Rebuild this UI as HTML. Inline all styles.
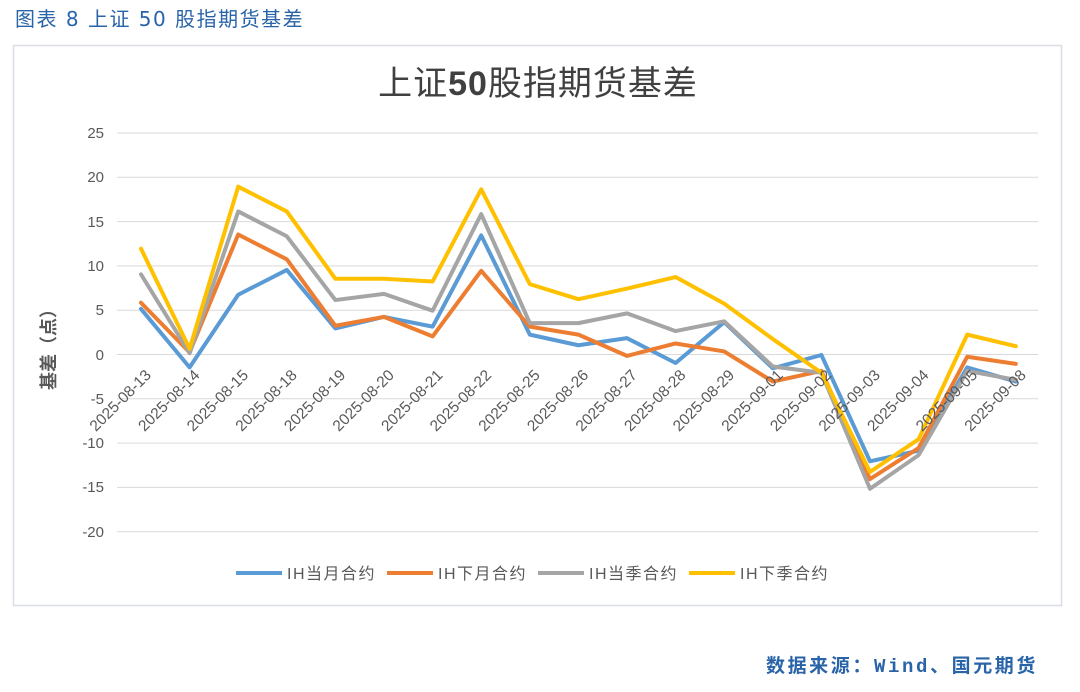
<!DOCTYPE html>
<html><head><meta charset="utf-8"><style>
body{margin:0;background:#fff;width:1080px;height:687px;overflow:hidden;font-family:"Liberation Sans","Noto Sans CJK SC",sans-serif}
</style></head><body>
<svg width="1080" height="687" xmlns="http://www.w3.org/2000/svg" style="font-family:'Liberation Sans','Noto Sans CJK SC',sans-serif">
<text x="15" y="26" font-size="20" fill="#2a64a8" letter-spacing="1.5" font-family="'DejaVu Sans','Noto Sans CJK SC',sans-serif">图表 8  上证 50 股指期货基差</text>
<rect x="13.5" y="45.5" width="1048" height="560" fill="#fff" stroke="#d9dee6" stroke-width="1.5"/>
<text x="538" y="95" font-size="34" fill="#404040" text-anchor="middle" letter-spacing="1">上证<tspan font-weight="bold">50</tspan>股指期货基差</text>
<g stroke="#d9d9d9" stroke-width="1">
<line x1="117" x2="1038" y1="133" y2="133"/><line x1="117" x2="1038" y1="177.3" y2="177.3"/>
<line x1="117" x2="1038" y1="221.6" y2="221.6"/><line x1="117" x2="1038" y1="265.9" y2="265.9"/>
<line x1="117" x2="1038" y1="310.2" y2="310.2"/><line x1="117" x2="1038" y1="354.5" y2="354.5"/>
<line x1="117" x2="1038" y1="398.8" y2="398.8"/><line x1="117" x2="1038" y1="443.1" y2="443.1"/>
<line x1="117" x2="1038" y1="487.4" y2="487.4"/><line x1="117" x2="1038" y1="531.7" y2="531.7"/>
</g>
<g font-size="15" fill="#595959" text-anchor="end">
<text x="104" y="138">25</text><text x="104" y="182">20</text><text x="104" y="227">15</text>
<text x="104" y="271">10</text><text x="104" y="315">5</text><text x="104" y="360">0</text>
<text x="104" y="404">-5</text><text x="104" y="448">-10</text><text x="104" y="492">-15</text><text x="104" y="537">-20</text>
</g>
<text transform="translate(55,345) rotate(-90)" font-size="18" fill="#595959" text-anchor="middle" font-weight="bold">基差（点）</text>
<g transform="translate(141,355) scale(48.6,-8.86)" fill="none" stroke-width="4" stroke-linejoin="round" stroke-linecap="round">
<polyline vector-effect="non-scaling-stroke" stroke="#5b9bd5" points="0,5.2 1,-1.4 2,6.8 3,9.6 4,3.0 5,4.3 6,3.2 7,13.5 8,2.3 9,1.1 10,1.9 11,-0.9 12,3.7 13,-1.5 14,0 15,-12 16,-10.8 17,-1.4 18,-3.0"/>
<polyline vector-effect="non-scaling-stroke" stroke="#ed7d31" points="0,5.9 1,0.3 2,13.6 3,10.8 4,3.3 5,4.3 6,2.1 7,9.5 8,3.2 9,2.3 10,-0.1 11,1.3 12,0.4 13,-3.0 14,-1.8 15,-14 16,-10.5 17,-0.2 18,-1.0"/>
<polyline vector-effect="non-scaling-stroke" stroke="#a5a5a5" points="0,9.1 1,0.2 2,16.2 3,13.4 4,6.2 5,6.9 6,5.0 7,15.9 8,3.6 9,3.6 10,4.7 11,2.7 12,3.8 13,-1.3 14,-2.0 15,-15.1 16,-11.3 17,-1.8 18,-2.8"/>
<polyline vector-effect="non-scaling-stroke" stroke="#ffc000" points="0,12 1,0.7 2,19 3,16.2 4,8.6 5,8.6 6,8.3 7,18.7 8,8.0 9,6.3 10,7.5 11,8.8 12,5.8 13,1.8 14,-2 15,-13.2 16,-9.5 17,2.3 18,1.0"/>
</g>
<g font-size="15.5" fill="#595959" text-anchor="end">
<text transform="translate(152,376) rotate(-45)">2025-08-13</text>
<text transform="translate(200.6,376) rotate(-45)">2025-08-14</text>
<text transform="translate(249.2,376) rotate(-45)">2025-08-15</text>
<text transform="translate(297.8,376) rotate(-45)">2025-08-18</text>
<text transform="translate(346.4,376) rotate(-45)">2025-08-19</text>
<text transform="translate(395,376) rotate(-45)">2025-08-20</text>
<text transform="translate(443.6,376) rotate(-45)">2025-08-21</text>
<text transform="translate(492.2,376) rotate(-45)">2025-08-22</text>
<text transform="translate(540.8,376) rotate(-45)">2025-08-25</text>
<text transform="translate(589.4,376) rotate(-45)">2025-08-26</text>
<text transform="translate(638,376) rotate(-45)">2025-08-27</text>
<text transform="translate(686.6,376) rotate(-45)">2025-08-28</text>
<text transform="translate(735.2,376) rotate(-45)">2025-08-29</text>
<text transform="translate(783.8,376) rotate(-45)">2025-09-01</text>
<text transform="translate(832.4,376) rotate(-45)">2025-09-02</text>
<text transform="translate(881,376) rotate(-45)">2025-09-03</text>
<text transform="translate(929.6,376) rotate(-45)">2025-09-04</text>
<text transform="translate(978.2,376) rotate(-45)">2025-09-05</text>
<text transform="translate(1026.8,376) rotate(-45)">2025-09-08</text>
</g>
<g stroke-width="4" font-size="16" fill="#595959" letter-spacing="1.5">
<line x1="236" x2="282" y1="573" y2="573" stroke="#5b9bd5"/><text x="287" y="579">IH当月合约</text>
<line x1="387" x2="433" y1="573" y2="573" stroke="#ed7d31"/><text x="438" y="579">IH下月合约</text>
<line x1="538" x2="584" y1="573" y2="573" stroke="#a5a5a5"/><text x="589" y="579">IH当季合约</text>
<line x1="689" x2="735" y1="573" y2="573" stroke="#ffc000"/><text x="740" y="579">IH下季合约</text>
</g>
<text x="1038" y="672" font-size="19" fill="#2a64a8" text-anchor="end" letter-spacing="2.6" font-family="'Liberation Mono','Noto Sans CJK SC',monospace" font-weight="bold">数据来源：Wind、国元期货</text>
</svg>
</body></html>
